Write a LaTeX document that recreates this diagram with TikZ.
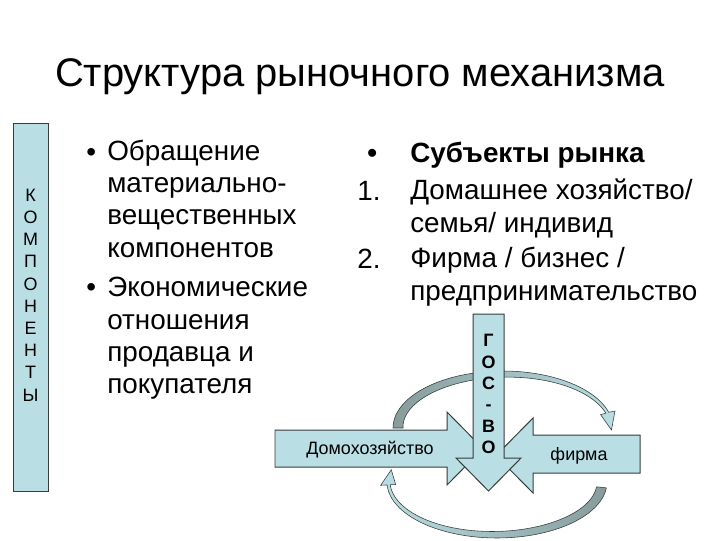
\documentclass[tikz,border=0pt]{standalone}
\usepackage{fontspec}
\setmainfont{Liberation Sans}
\definecolor{boxblue}{RGB}{185,222,228}
\definecolor{arcgray}{RGB}{135,155,155}
\definecolor{edgegray}{RGB}{55,60,60}

\begin{document}
\begin{tikzpicture}[x=0.025cm,y=-0.025cm,
		flat/.style={fill=boxblue,draw=edgegray,line width=0.7pt},
		curl/.style={draw=edgegray,line width=0.4pt},
		bodytext/.style={anchor=base west,inner sep=0pt,align=left,font=\fontsize{19.8}{22.9}\selectfont},
		arrowtext/.style={inner sep=0pt,font=\fontsize{12.75}{15}\selectfont}]
		\useasboundingbox (0,0) rectangle (720,540);
		\node[anchor=base,inner sep=0pt,font=\fontsize{28.4}{34}\selectfont] (title) at (360,86) {Структура рыночного механизма};

		\draw[flat] (13,123) rectangle (48,491);
		\node[arrowtext,align=center,font=\fontsize{12.75}{15.8}\selectfont] (komp) at (30.5,295) {К\\О\\М\\П\\О\\Н\\Е\\Н\\Т\\Ы};

		\node[bodytext] (b1) at (86,161) {•};
		\node[bodytext] (t1) at (107,257) {Обращение\\материально-\\вещественных\\компонентов};
		\node[bodytext] (b2) at (86,296) {•};
		\node[bodytext] (t2) at (107,393.5) {Экономические\\отношения\\продавца и\\покупателя};

		\node[bodytext] (b3) at (367,162) {\bfseries •};
		\node[bodytext] (t3) at (410,162) {\bfseries Субъекты рынка};
		\node[bodytext] (n1) at (357,200) {1.};
		\node[bodytext] (t4) at (410,232) {Домашнее хозяйство/\\семья/ индивид};
		\node[bodytext] (n2) at (357,268) {2.};
		\node[bodytext] (t5) at (410,300) {Фирма / бизнес /\\предпринимательство};

		% oval flow round the market
		\path[curl,left color=arcgray,right color=boxblue]
		plot[domain=180:344,samples=50,variable=\t] ({503+110*cos(\t)},{428+57*sin(\t)})
		-- ({503+116.5*cos(344)},{428+61.5*sin(344)})
		-- ({503+108.5*cos(2)},{428+55.5*sin(2)})
		-- ({503+101.5*cos(344)},{428+48.5*sin(344)})
		-- plot[domain=344:180,samples=50,variable=\t] ({503+(100+7*(\t-180)/164)*cos(\t)},{428+(47+7*(\t-180)/164)*sin(\t)})
		-- cycle;
		\path[curl,left color=boxblue,right color=arcgray]
		plot[domain=6:177,samples=50,variable=\t] ({497+110*cos(\t)},{482+56*sin(\t)})
		-- ({497+116.5*cos(177)},{482+62.5*sin(177)})
		-- ({497+108.5*cos(193)},{482+54.5*sin(193)})
		-- ({497+101.5*cos(177)},{482+47.5*sin(177)})
		-- plot[domain=177:6,samples=50,variable=\t] ({497+(100+7*(\t-6)/171)*cos(\t)},{482+(46+7*(\t-6)/171)*sin(\t)})
		-- cycle;

		\draw[flat] (275,430) -- (447,430) -- (447,412) -- (483,448.5) -- (447,485) -- (447,467) -- (275,467) -- cycle;
		\draw[flat] (640,435) -- (533,435) -- (533,418) -- (496,455.5) -- (533,493) -- (533,473) -- (640,473) -- cycle;
		\draw[flat] (473,314) -- (504,314) -- (504,458) -- (521,458) -- (488.5,491) -- (456,458) -- (473,458) -- cycle;

		\node[arrowtext] (home) at (370,450) {Домохозяйство};
		\node[arrowtext] (firm) at (579,456) {фирма};
		\node[arrowtext,align=center,font=\fontsize{12.75}{15.2}\selectfont\bfseries] (gov) at (488.5,394) {Г\\О\\С\\-\\В\\О};
	\end{tikzpicture}
\end{document}
